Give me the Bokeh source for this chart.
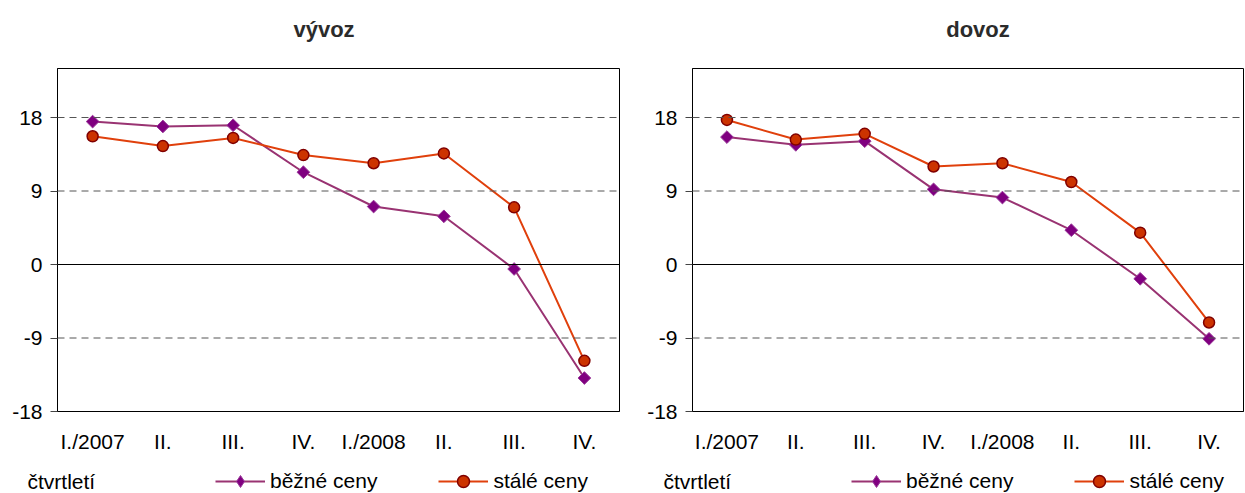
from bokeh.plotting import figure
from bokeh.layouts import row, column
from bokeh.models import FixedTicker, Span, Label, Legend, LegendItem, Range1d
from bokeh.embed import file_html
from bokeh.resources import INLINE

categories = ["I./2007", "II.", "III.", "IV.", "I./2008", "II.", "III.", "IV."]
y_ticks = [-18, -9, 0, 9, 18]

vyvoz_bezne = [17.5, 16.9, 17.05, 11.3, 7.1, 5.9, -0.55, -13.9]
vyvoz_stale = [15.7, 14.5, 15.5, 13.4, 12.4, 13.6, 7.0, -11.8]
dovoz_bezne = [15.6, 14.65, 15.1, 9.2, 8.2, 4.2, -1.75, -9.1]
dovoz_stale = [17.7, 15.3, 16.0, 12.0, 12.4, 10.1, 3.9, -7.1]

titles = ["vývoz", "dovoz"]
series_names = ["běžné ceny", "stálé ceny"]
x_title = "čtvrtletí"

FONT = "Liberation Sans"
PURPLE_LINE = "#993372"
PURPLE_FILL = "#800080"
PURPLE_EDGE = "#9A3A9A"
RED_LINE = "#E0400C"
RED_FILL = "#CC3300"
RED_EDGE = "#800000"

TITLE_H = 56
TOP = 12
FRAME_H = 343
BOTTOM = 44
MAIN_H = TOP + FRAME_H + BOTTOM
LEG_H = 38
XS = list(range(len(categories)))


def style_line(p, xs, ys, kind, legend_marker=False):
    if kind == 0:
        l = p.line(xs, ys, line_color=PURPLE_LINE, line_width=2)
        if legend_marker:
            s = p.scatter(xs, ys, marker="diamond", size=12,
                          fill_color=PURPLE_FILL, line_color=PURPLE_EDGE, line_width=1)
        else:
            s = p.scatter(xs, ys, marker="square", angle=0.785398, size=9,
                          fill_color=PURPLE_FILL, line_color=PURPLE_EDGE, line_width=1)
    else:
        l = p.line(xs, ys, line_color=RED_LINE, line_width=2)
        s = p.scatter(xs, ys, marker="circle", size=11,
                      fill_color=RED_FILL, line_color=RED_EDGE, line_width=1.5)
    return l, s


def blank_fig(width, height):
    q = figure(width=width, height=height, output_backend="svg", toolbar_location=None,
               title=None, x_range=Range1d(100, 101), y_range=Range1d(100, 101),
               x_axis_type=None, y_axis_type=None)
    q.min_border_left = 0
    q.min_border_right = 0
    q.min_border_top = 0
    q.min_border_bottom = 0
    q.outline_line_color = None
    q.xgrid.visible = False
    q.ygrid.visible = False
    q.background_fill_color = "white"
    q.border_fill_color = "white"
    return q


def make_title(width, text, cx):
    t = blank_fig(width, TITLE_H)
    t.add_layout(Label(x=cx, y=TITLE_H - 29, x_units="screen", y_units="screen", text=text,
                       text_font=FONT, text_font_size="22px", text_font_style="bold",
                       text_color="#2b2b2b", text_baseline="alphabetic", text_align="center"))
    return t


def make_panel(bezne, stale, width, left, frame_w):
    p = figure(width=width, height=MAIN_H, output_backend="svg", toolbar_location=None,
               title=None,
               x_range=Range1d(-0.5, len(categories) - 0.5), y_range=Range1d(-18, 24))
    p.min_border_left = left
    p.min_border_right = width - left - frame_w
    p.min_border_top = TOP
    p.min_border_bottom = BOTTOM
    p.background_fill_color = "white"
    p.border_fill_color = "white"
    p.outline_line_color = "black"
    p.outline_line_width = 1
    p.xgrid.visible = False
    p.ygrid.visible = False

    p.xaxis.ticker = FixedTicker(ticks=XS)
    p.xaxis.major_label_overrides = {i: c for i, c in enumerate(categories)}
    p.xaxis.major_tick_out = 0
    p.xaxis.major_tick_in = 0
    p.xaxis.minor_tick_out = 0
    p.xaxis.minor_tick_in = 0
    p.xaxis.major_label_standoff = 18
    p.xaxis.axis_line_color = "black"

    p.yaxis.ticker = FixedTicker(ticks=y_ticks)
    p.yaxis.major_label_overrides = {t: str(t) for t in y_ticks}
    p.yaxis.major_tick_out = 7
    p.yaxis.major_tick_in = 0
    p.yaxis.minor_tick_out = 0
    p.yaxis.minor_tick_in = 0
    p.yaxis.major_label_standoff = 8
    p.yaxis.axis_line_color = "black"
    p.yaxis.major_tick_line_color = "#444444"
    for ax in (p.xaxis, p.yaxis):
        ax.major_label_text_font = FONT
        ax.major_label_text_font_size = "21px"
        ax.major_label_text_color = "black"

    for t in y_ticks:
        if t == y_ticks[0]:
            continue
        if t == 0:
            p.add_layout(Span(location=t, dimension="width", line_color="black", line_width=1))
        else:
            p.add_layout(Span(location=t, dimension="width", line_color="#555555",
                              line_width=1, line_dash="7 5"))

    style_line(p, XS, bezne, 0)
    style_line(p, XS, stale, 1)
    return p


def make_legend(width, bezne, stale, text_x, legend_x):
    q = blank_fig(width, LEG_H)
    # same series, outside the visible range: only their legend glyphs show
    l1, s1 = style_line(q, XS, bezne, 0, legend_marker=True)
    l2, s2 = style_line(q, XS, stale, 1, legend_marker=True)
    legend = Legend(items=[LegendItem(label=series_names[0], renderers=[l1, s1]),
                           LegendItem(label=series_names[1], renderers=[l2, s2])],
                    location=(legend_x, -3), orientation="horizontal",
                    glyph_width=50, glyph_height=30, label_standoff=5, spacing=61,
                    padding=0, margin=0, border_line_color=None,
                    background_fill_alpha=0, label_text_font=FONT,
                    label_text_font_size="21px", label_text_color="black")
    q.add_layout(legend, "center")
    q.add_layout(Label(x=text_x, y=12, x_units="screen", y_units="screen", text=x_title,
                       text_font=FONT, text_font_size="21px", text_color="black",
                       text_baseline="middle", text_align="left"))
    return q


W1, W2 = 620, 625
t1 = make_title(W1, titles[0], 323.5)
t2 = make_title(W2, titles[1], 357.5)
p1 = make_panel(vyvoz_bezne, vyvoz_stale, W1, 57, 562)
p2 = make_panel(dovoz_bezne, dovoz_stale, W2, 72, 551)
q1 = make_legend(W1, vyvoz_bezne, vyvoz_stale, 27, 215)
q2 = make_legend(W2, dovoz_bezne, dovoz_stale, 43, 231)

layout = column(row(t1, t2), row(p1, p2), row(q1, q2))
open("out.html", "w").write(file_html(layout, INLINE))
